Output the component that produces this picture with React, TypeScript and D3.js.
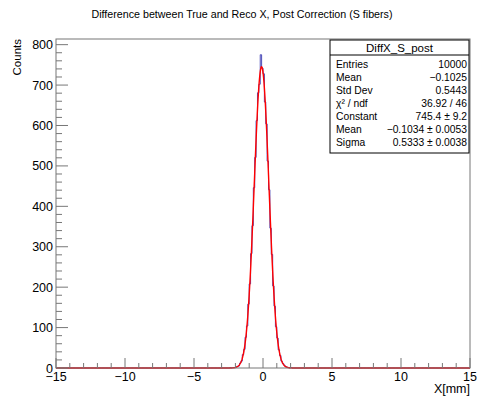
import React from "react";
import * as d3 from "d3";

// ---- data ----
const title = "Difference between True and Reco X, Post Correction (S fibers)";
const xTitle = "X[mm]";
const yTitle = "Counts";
const xMin = -15;
const xMax = 15;
const nBins = 300;
const yMax = 814;
// counts of the non-empty region, bins starting at x = -2.5 (width 0.1)
const firstFilledEdge = -2.5;
const filledCounts = [
  0, 1, 0, 1, 1, 2, 4, 5, 12, 17, 33, 46, 76, 104, 158, 208, 283, 352, 446, 521,
  612, 681, 702, 775, 742, 728, 658, 604, 512, 441, 346, 281, 203, 153, 102, 74,
  45, 31, 17, 11, 7, 3, 2, 1, 0, 1,
];
const xTicks = [-15, -10, -5, 0, 5, 10, 15];
const yTicks = [0, 100, 200, 300, 400, 500, 600, 700, 800];
const fitConstant = 745.4;
const fitMean = -0.1034;
const fitSigma = 0.5333;
const statsTitle = "DiffX_S_post";
const statsLabels = ["Entries", "Mean", "Std Dev", "χ² / ndf", "Constant", "Mean", "Sigma"];
const statsValues = [
  "10000",
  "−0.1025",
  "0.5443",
  "36.92 / 46",
  "745.4 ± 9.2",
  "−0.1034 ± 0.0053",
  "0.5333 ± 0.0038",
];

const W = 477;
const H = 396;
const frame = { left: 56, right: 470, top: 39, bottom: 368 };
const font = "'Liberation Sans', Arial, Helvetica, sans-serif";
const axisColor = "#777";

export default function App() {
  const x = d3.scaleLinear().domain([xMin, xMax]).range([frame.left, frame.right]);
  const y = d3.scaleLinear().domain([0, yMax]).range([frame.bottom, frame.top]);
  const binW = (xMax - xMin) / nBins;
  const firstIdx = Math.round((firstFilledEdge - xMin) / binW);
  const counts: number[] = new Array(nBins).fill(0);
  filledCounts.forEach((c, i) => (counts[firstIdx + i] = c));

  const stepPts: [number, number][] = [];
  counts.forEach((c, i) => {
    const lo = xMin + i * binW;
    stepPts.push([lo, c]);
    stepPts.push([lo + binW, c]);
  });
  const histPath = d3
    .line<[number, number]>()
    .x((d) => x(d[0]))
    .y((d) => y(d[1]))(stepPts);

  const gauss = (v: number) =>
    fitConstant * Math.exp(-0.5 * ((v - fitMean) / fitSigma) ** 2);
  const fitPts = d3.range(xMin, xMax + 0.0001, 0.02).map((v) => [v, gauss(v)] as [number, number]);
  const fitPath = d3
    .line<[number, number]>()
    .x((d) => x(d[0]))
    .y((d) => y(Math.min(d[1], yMax)))
    .curve(d3.curveLinear)(fitPts);

  const xMinor = d3.range(xMin, xMax + 0.001, 1);
  const yMinor = d3.range(0, yMax, 20);

  const sb = { left: 330, right: 469, top: 40, bottom: 153, titleLine: 55, row0: 64.5, rowH: 12.9 };

  return (
    <svg
      width={W}
      height={H}
      style={{ position: "absolute", left: 0, top: 0, background: "#fff" }}
      fontFamily={font}
    >
      <rect x={0} y={0} width={W} height={H} fill="#fff" />
      <text x={242} y={18} fontSize={10.7} textAnchor="middle" fill="#000">
        {title}
      </text>

      {/* histogram */}
      <path d={histPath || ""} fill="none" stroke="#4a4ab8" strokeWidth={1} />
      {/* fit */}
      <path d={fitPath || ""} fill="none" stroke="#ff0000" strokeWidth={1.4} />

      {/* frame */}
      <rect
        x={frame.left}
        y={frame.top}
        width={frame.right - frame.left}
        height={frame.bottom - frame.top}
        fill="none"
        stroke={axisColor}
        strokeWidth={1}
      />

      {/* x ticks */}
      {xMinor.map((v) => {
        const major = xTicks.includes(v);
        return (
          <line
            key={"xm" + v}
            x1={x(v)}
            x2={x(v)}
            y1={frame.bottom}
            y2={frame.bottom - (major ? 10 : 5)}
            stroke={axisColor}
          />
        );
      })}
      {xTicks.map((v) => (
        <text key={"xl" + v} x={x(v)} y={381} fontSize={12.5} textAnchor="middle" fill="#000">
          {v < 0 ? "−" + Math.abs(v) : v}
        </text>
      ))}
      <text x={frame.right} y={393} fontSize={12.5} textAnchor="end" fill="#000">
        {xTitle}
      </text>

      {/* y ticks */}
      {yMinor.map((v) => {
        const major = yTicks.includes(v);
        return (
          <line
            key={"ym" + v}
            x1={frame.left}
            x2={frame.left + (major ? 12 : 6)}
            y1={y(v)}
            y2={y(v)}
            stroke={axisColor}
          />
        );
      })}
      {yTicks.map((v) => (
        <text key={"yl" + v} x={53} y={y(v) + 4.5} fontSize={12.5} textAnchor="end" fill="#000">
          {v}
        </text>
      ))}
      <text
        transform={`translate(21, ${frame.top}) rotate(-90)`}
        fontSize={11.5}
        textAnchor="end"
        fill="#000"
      >
        {yTitle}
      </text>

      {/* stats box */}
      <rect
        x={sb.left}
        y={sb.top}
        width={sb.right - sb.left}
        height={sb.bottom - sb.top}
        fill="#fff"
        stroke="#000"
        strokeWidth={1}
      />
      <line x1={sb.left} x2={sb.right} y1={sb.titleLine} y2={sb.titleLine} stroke="#000" />
      <text x={(sb.left + sb.right) / 2} y={52} fontSize={11.5} textAnchor="middle" fill="#000">
        {statsTitle}
      </text>
      {statsLabels.map((l, i) => (
        <text key={"sl" + i} x={sb.left + 6} y={sb.row0 + i * sb.rowH + 3.7} fontSize={10.3} fill="#000">
          {l}
        </text>
      ))}
      {statsValues.map((v, i) => (
        <text
          key={"sv" + i}
          x={sb.right - 2}
          y={sb.row0 + i * sb.rowH + 3.7}
          fontSize={10.3}
          textAnchor="end"
          fill="#000"
        >
          {v}
        </text>
      ))}
    </svg>
  );
}
